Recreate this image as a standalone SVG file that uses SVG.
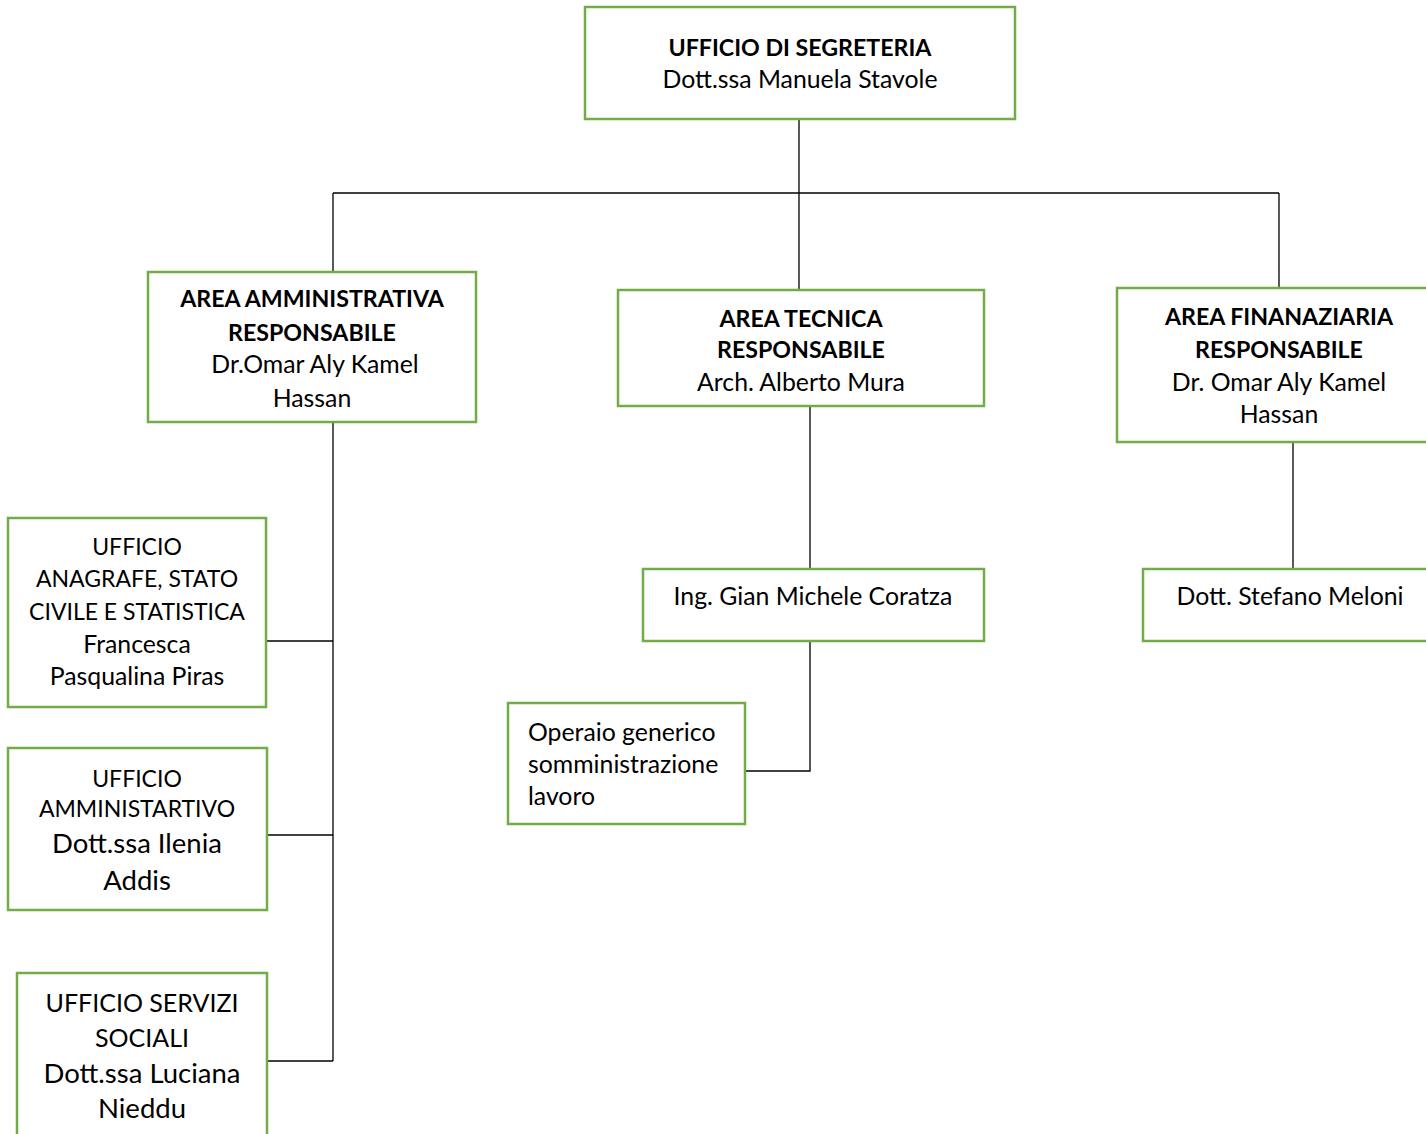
<svg xmlns="http://www.w3.org/2000/svg" width="1426" height="1134" viewBox="0 0 1426 1134">
<style>
.box{fill:#ffffff;stroke:#70AD47;stroke-width:2.5}
.c{stroke:#000000;stroke-width:1.3;fill:none}
text{font-family:Lato,"Noto Sans",sans-serif;fill:#000000;font-size:24.8px}
.m{text-anchor:middle}
.b{font-weight:bold;font-size:23.2px}
.k{font-size:23px}
.l{font-size:27.5px}
.lk{font-size:25px}
</style>
<rect width="1426" height="1134" fill="#ffffff"/>
<g id="connectors">
<path class="c" d="M799,119 V290"/>
<path class="c" d="M333,193 H1279"/>
<path class="c" d="M333,193 V271"/>
<path class="c" d="M1279,193 V288"/>
<path class="c" d="M333,422 V1061"/>
<path class="c" d="M266,641 H333"/>
<path class="c" d="M267,835 H333"/>
<path class="c" d="M267,1061 H333"/>
<path class="c" d="M810,406 V568"/>
<path class="c" d="M810,641 V771 H745"/>
<path class="c" d="M1293,442 V569"/>
</g>
<g id="segreteria">
<rect class="box" x="585" y="7" width="430" height="112"/>
<text class="m b" x="800" y="56">UFFICIO DI SEGRETERIA</text>
<text class="m" x="800" y="88">Dott.ssa Manuela Stavole</text>
</g>
<g id="area-amministrativa">
<rect class="box" x="148" y="272" width="328" height="150"/>
<text class="m b" x="312" y="307">AREA AMMINISTRATIVA</text>
<text class="m b" x="312" y="341">RESPONSABILE</text>
<text class="m" x="315" y="373">Dr.Omar Aly Kamel</text>
<text class="m" x="312" y="407">Hassan</text>
</g>
<g id="area-tecnica">
<rect class="box" x="618" y="290" width="366" height="116"/>
<text class="m b" x="801" y="327">AREA TECNICA</text>
<text class="m b" x="801" y="358">RESPONSABILE</text>
<text class="m" x="801" y="391">Arch. Alberto Mura</text>
</g>
<g id="area-finanziaria">
<rect class="box" x="1117" y="288" width="330" height="154"/>
<text class="m b" x="1279" y="325">AREA FINANAZIARIA</text>
<text class="m b" x="1279" y="358">RESPONSABILE</text>
<text class="m" x="1279" y="391">Dr. Omar Aly Kamel</text>
<text class="m" x="1279" y="423">Hassan</text>
</g>
<g id="anagrafe">
<rect class="box" x="8" y="518" width="258" height="189"/>
<text class="m k" x="137" y="555">UFFICIO</text>
<text class="m k" x="137" y="587">ANAGRAFE, STATO</text>
<text class="m k" x="137" y="620">CIVILE E STATISTICA</text>
<text class="m" x="137" y="653">Francesca</text>
<text class="m" x="137" y="685">Pasqualina Piras</text>
</g>
<g id="amministrativo">
<rect class="box" x="8" y="748" width="259" height="162"/>
<text class="m k" x="137" y="787">UFFICIO</text>
<text class="m k" x="137" y="817">AMMINISTARTIVO</text>
<text class="m l" x="137" y="853">Dott.ssa Ilenia</text>
<text class="m l" x="137" y="890">Addis</text>
</g>
<g id="servizi-sociali">
<rect class="box" x="17" y="973" width="250" height="180"/>
<text class="m lk" x="142" y="1012">UFFICIO SERVIZI</text>
<text class="m lk" x="142" y="1047">SOCIALI</text>
<text class="m l" x="142" y="1083">Dott.ssa Luciana</text>
<text class="m l" x="142" y="1118">Nieddu</text>
</g>
<g id="coratza">
<rect class="box" x="643" y="569" width="341" height="72"/>
<text class="m" x="813" y="605">Ing. Gian Michele Coratza</text>
</g>
<g id="operaio">
<rect class="box" x="508" y="703" width="237" height="121"/>
<text x="528" y="741">Operaio generico</text>
<text x="528" y="773">somministrazione</text>
<text x="528" y="805">lavoro</text>
</g>
<g id="meloni">
<rect class="box" x="1143" y="569" width="300" height="72"/>
<text class="m" x="1290" y="605">Dott. Stefano Meloni</text>
</g>
</svg>
